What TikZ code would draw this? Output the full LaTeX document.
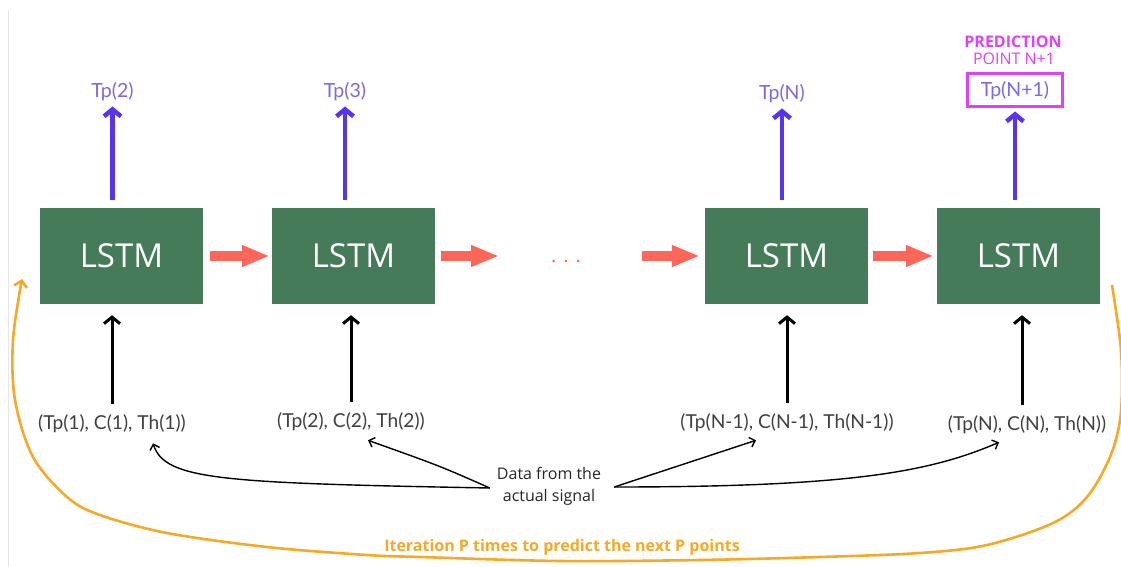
\documentclass[tikz,border=0pt]{standalone}
\usepackage{fontspec}
\setmainfont{Open Sans}
\newfontfamily\latofont{Lato}
\usetikzlibrary{arrows.meta}
\definecolor{lstmgreen}{RGB}{70,123,90}
\definecolor{redarrow}{RGB}{255,102,90}
\definecolor{bluearrow}{RGB}{88,52,240}
\definecolor{bluelabel}{RGB}{122,104,232}
\definecolor{predmag}{RGB}{224,64,251}
\definecolor{iterorange}{RGB}{249,168,37}
\definecolor{inputgray}{RGB}{64,64,64}
\definecolor{borderline}{RGB}{230,230,230}
\tikzset{
 lstm/.style={fill=lstmgreen, draw=none, minimum width=163pt, minimum height=96pt, inner sep=0pt, text=white, font=\fontsize{33}{38}\selectfont},
 redarr/.style={draw=redarrow, line width=10pt, -{Triangle[length=28pt,width=20pt]}},
 bluearr/.style={draw=bluearrow, line width=4.5pt, -{Straight Barb[length=7pt,width=17pt]}},
 blackarr/.style={draw=black, line width=3pt, -{Straight Barb[length=6.5pt,width=16pt]}},
 dataarr/.style={draw=black, line width=1.4pt, -{Straight Barb[length=5pt,width=10pt]}},
 looparr/.style={draw=iterorange, line width=2.6pt, -{Straight Barb[length=6pt,width=13pt]}},
 outlbl/.style={inner sep=0pt, text=bluelabel, font=\latofont\fontsize{19.5}{23}\selectfont},
 inlbl/.style={inner sep=0pt, text=inputgray, font=\latofont\fontsize{19.2}{23}\selectfont},
 predlbl/.style={inner sep=0pt, text=predmag, font=\fontsize{16}{19}\selectfont},
}
\begin{document}
\begin{tikzpicture}[x=1pt,y=-1pt]
\useasboundingbox (0,0) rectangle (1121,567);
\draw[borderline, line width=1pt] (8,10) -- (8,567);

% LSTM boxes
\node[lstm] (L1) at (121.5,256) {LSTM};
\node[lstm] (L2) at (353.5,256) {LSTM};
\node[lstm] (L3) at (786.5,256) {LSTM};
\node[lstm] (L4) at (1018.5,256) {LSTM};

% dots
\node[inner sep=0pt, text=redarrow, font=\fontsize{20}{24}\selectfont] (dots) at (566,261) {. . .};
\coordinate (d1) at (499,256);
\coordinate (d2) at (642,256);

% red arrows
\draw[redarr, shorten <=7pt, shorten >=2pt] (L1) -- (L2);
\draw[redarr, shorten <=6pt] (L2) -- (d1);
\draw[redarr, shorten >=5pt] (d2) -- (L3);
\draw[redarr, shorten <=5pt, shorten >=3pt] (L3) -- (L4);

% outputs
\node[outlbl] (o1) at (112.5,92) {Tp(2)};
\node[outlbl] (o2) at (345,92) {Tp(3)};
\node[outlbl] (o3) at (782,94) {Tp(N)};
\node[outlbl, draw=predmag, line width=3pt, minimum width=95pt, minimum height=33pt] (o4) at (1015,90.5) {Tp(N+1)};
\node[predlbl, font=\bfseries\fontsize{16}{19}\selectfont] (p1) at (1013,42) {PREDICTION};
\node[predlbl] (p2) at (1014,59) {POINT N+1};

\draw[bluearr, shorten <=8pt, shorten >=5pt] (L1.north -| o1.south) -- (o1.south);
\draw[bluearr, shorten <=8pt, shorten >=5pt] (L2.north -| o2.south) -- (o2.south);
\draw[bluearr, shorten <=8pt, shorten >=5pt] (L3.north -| o3.south) -- (o3.south);
\draw[bluearr, shorten <=8pt, shorten >=3pt] (L4.north -| o4.south) -- (o4.south);

% inputs
\node[inlbl] (i1) at (112,424) {(Tp(1), C(1), Th(1))};
\node[inlbl] (i2) at (351,422) {(Tp(2), C(2), Th(2))};
\node[inlbl] (i3) at (787,423) {(Tp(N-1), C(N-1), Th(N-1))};
\node[inlbl] (i4) at (1027,425) {(Tp(N), C(N), Th(N))};

\draw[blackarr, shorten <=11pt, shorten >=11pt] (i1.north) -- (i1.north |- L1.south);
\draw[blackarr, shorten <=11pt, shorten >=11pt] (i2.north) -- (i2.north |- L2.south);
\draw[blackarr, shorten <=11pt, shorten >=11pt] (i3.north) -- (i3.north |- L3.south);
\draw[blackarr, shorten <=11pt, shorten >=11pt] ([xshift=-5pt]i4.north) -- ([xshift=-5pt]i4.north |- L4.south);

% data from the actual signal
\node[inner sep=0pt, align=center, text=black!85, font=\fontsize{16}{22}\selectfont] (data) at (549,486) {Data from the\\actual signal};

\draw[dataarr] ([xshift=-7pt,yshift=-2pt]data.west) .. controls (220,483) and (165,480) .. ([xshift=41pt,yshift=-10pt]i1.south);
\draw[dataarr] ([xshift=-7pt,yshift=-2pt]data.west) .. controls (440,466) .. ([xshift=17pt,yshift=-9pt]i2.south);
\draw[dataarr] ([xshift=13pt,yshift=-1pt]data.east) -- ([xshift=-31pt,yshift=-8pt]i3.south);
\draw[dataarr] ([xshift=13pt,yshift=-1pt]data.east) .. controls (850,487) and (930,472) .. ([xshift=-28pt,yshift=-8pt]i4.south);

% iteration loop
\node[inner sep=0pt, text=iterorange, font=\bfseries\fontsize{16}{19}\selectfont] (iter) at (562,547) {Iteration P times to predict the next P points};
\draw[looparr] plot[smooth, tension=0.55] coordinates {(1112,285) (1120,340) (1122,380) (1120,420) (1110,457) (1087,497) (1053,523) (987,545) (920,553) (820,557) (700,560) (560,561) (420,557) (367,555) (267,547) (167,533) (100,515) (67,497) (33,457) (15,400) (13,340) (22,279)};
\end{tikzpicture}
\end{document}
